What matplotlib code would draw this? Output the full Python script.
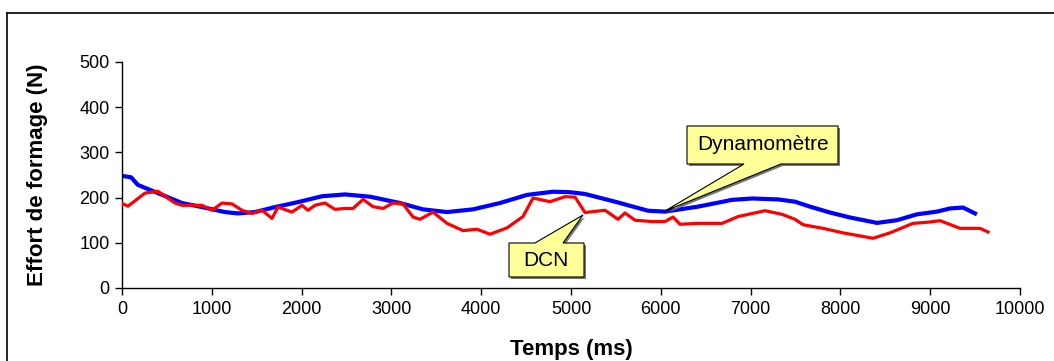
import matplotlib
matplotlib.use("Agg")
import matplotlib.pyplot as plt
from matplotlib.patches import Polygon
from matplotlib.lines import Line2D

plt.rcParams["font.family"] = ["Liberation Sans", "DejaVu Sans"]

# données
dyn_t = [0, 100, 178, 400, 668, 890, 1147, 1292, 1481, 1704, 1960, 2227, 2483, 2762,
         3096, 3352, 3619, 3909, 4209, 4510, 4800, 4989, 5156, 5490, 5857, 6047,
         6414, 6793, 7016, 7305, 7494, 7661, 7884, 8107, 8408, 8630, 8853, 9076,
         9220, 9365, 9499]
dyn_v = [248, 245, 228, 210, 188, 179, 168, 165, 168, 179, 190, 203, 207, 202,
         188, 174, 168, 174, 188, 206, 213, 212, 208, 191, 171, 169,
         180, 195, 198, 196, 191, 180, 167, 156, 144, 150, 163, 169,
         176, 178, 165]

dcn_t = [0, 67, 256, 400, 590, 668, 890, 1002, 1114, 1225, 1336, 1448, 1559, 1670,
         1737, 1893, 2004, 2071, 2149, 2260, 2372, 2483, 2572, 2684, 2795, 2906,
         3018, 3129, 3241, 3318, 3463, 3619, 3797, 3953, 4098, 4287, 4465, 4577,
         4766, 4933, 5045, 5156, 5379, 5523, 5601, 5713, 5902, 6047, 6136, 6214,
         6414, 6682, 6860, 7160, 7350, 7494, 7584, 7806, 8029, 8363, 8552, 8808,
         8998, 9109, 9332, 9555, 9644]
dcn_v = [187, 181, 210, 214, 188, 183, 183, 172, 188, 186, 172, 165, 172, 154,
         179, 168, 183, 172, 183, 188, 174, 176, 176, 196, 180, 176,
         188, 186, 157, 152, 168, 143, 127, 130, 119, 133, 158, 199,
         191, 202, 201, 167, 172, 152, 166, 150, 147, 147, 157, 141,
         143, 143, 158, 171, 163, 152, 140, 132, 122, 110, 122, 143,
         146, 149, 132, 132, 124]

W, H = 1054, 361
fig = plt.figure(figsize=(W / 100, H / 100), dpi=100)
ax = fig.add_axes([122 / W, 1 - 288 / H, (1020 - 122) / W, (288 - 62) / H])

ax.plot(dcn_t, dcn_v, color="#FF0000", lw=2.3, zorder=3)
ax.plot(dyn_t, dyn_v, color="#0000FF", lw=3.0, zorder=2)

ax.set_xlim(0, 10000)
ax.set_ylim(0, 500)
ax.set_xticks(range(0, 10001, 1000))
ax.set_yticks(range(0, 501, 100))
for s in ["top", "right"]:
    ax.spines[s].set_visible(False)
for s in ["left", "bottom"]:
    ax.spines[s].set_linewidth(1.0)
ax.tick_params(direction="out", length=5, width=1, labelsize=13, pad=4)
ax.set_xlabel("Temps (ms)", fontsize=16, fontweight="bold")
ax.set_ylabel("Effort de formage (N)", fontsize=16, fontweight="bold")
ax.xaxis.set_label_coords(0.5, (288 - 350) / 226, transform=ax.transAxes)
ax.yaxis.set_label_coords((38 - 122) / 898, 0.5, transform=ax.transAxes)
ax.xaxis.label.set_va("center")
ax.yaxis.label.set_va("center")

# cadre extérieur
fig.add_artist(Line2D([7 / W, 1.0], [1 - 13 / H] * 2, color="black", lw=1.2))
fig.add_artist(Line2D([7 / W] * 2, [0.0, 1 - 13 / H], color="black", lw=1.2))


def callout(pts, text, cx, cy):
    def conv(p, dx=0, dy=0):
        return ((p[0] + dx) / W, 1 - (p[1] + dy) / H)
    shadow = Polygon([conv(p, 2, 2) for p in pts], closed=True,
                     transform=fig.transFigure, fc="#777777", ec="none", zorder=5)
    box = Polygon([conv(p) for p in pts], closed=True, transform=fig.transFigure,
                  fc="#FFFF99", ec="black", lw=0.8, zorder=6)
    fig.add_artist(shadow)
    fig.add_artist(box)
    fig.text(cx / W, 1 - cy / H, text, ha="center", va="center", fontsize=15, zorder=7)


callout([(687, 126), (838, 126), (838, 164), (781, 164), (665, 211), (744, 164), (687, 164)],
        "Dynamomètre", 763, 145)
callout([(509, 243), (535, 243), (583, 215), (563, 243), (584, 243), (584, 277), (509, 277)],
        "DCN", 546, 261)

fig.savefig("out.png", dpi=100)
